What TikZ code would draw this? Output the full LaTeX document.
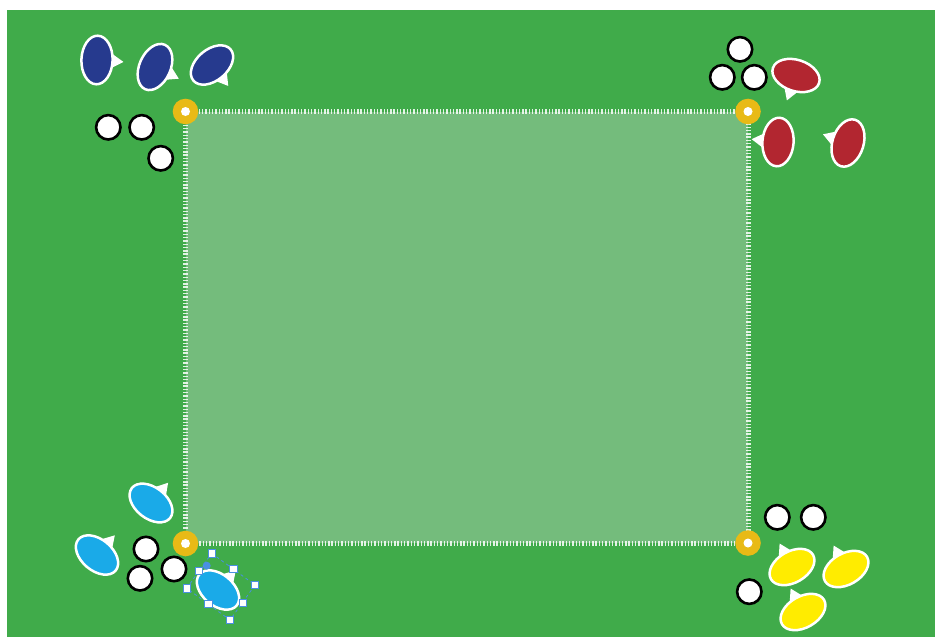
\documentclass[tikz,border=0pt]{standalone}
\definecolor{bgc}{RGB}{64,171,74}
\definecolor{fieldc}{RGB}{116,188,124}
\definecolor{conec}{RGB}{232,186,22}
\definecolor{dblue}{RGB}{38,58,142}
\definecolor{redc}{RGB}{178,38,48}
\definecolor{lblue}{RGB}{26,170,232}
\definecolor{yelc}{RGB}{255,236,0}
\definecolor{selc}{RGB}{74,144,226}
\tikzset{
  ballst/.style={fill=white,draw=black,line width=2.6},
  bodyst/.style={draw=white,line width=2.5},
  handlest/.style={fill=white,draw=selc,line width=0.8},
}
\newcommand\myplayer[4]{%
  \begin{scope}[shift={(#1,-#2)},rotate=#3]
    \fill[white] (10,-10) -- (26.5,-1) -- (10,10) -- cycle;
    \filldraw[bodyst,fill=#4] (0,0) ellipse [x radius=15.6,y radius=24.3];
  \end{scope}}
\newcommand\myball[2]{\filldraw[ballst] (#1,-#2) circle (12.2);}
\newcommand\mycone[2]{\fill[conec] (#1,-#2) circle (12.8);\fill[white] (#1,-#2) circle (4.5);}
\newcommand\myhandle[2]{\filldraw[handlest] (#1-3.6,-#2-3.6) rectangle (#1+3.6,-#2+3.6);}
\begin{document}
\begin{tikzpicture}[x=1pt,y=1pt]
\useasboundingbox (0,0) rectangle (935,-637);
\fill[bgc] (7,-10) rectangle (935,-637);
% field
\fill[fieldc] (185.5,-111.5) rectangle (748,-543);
\draw[white,opacity=0.85,line width=5,dash pattern=on 1.4pt off 1.9pt] (185.5,-111.5) rectangle (748,-543);
% cones
\mycone{185.5}{111.5}
\mycone{748}{111.5}
\mycone{185.5}{543.5}
\mycone{748}{543}
% balls
\myball{108.3}{127.3}\myball{141.7}{127.3}\myball{160.7}{158.3}
\myball{740}{49.3}\myball{722.3}{77.3}\myball{754.3}{77.3}
\myball{146}{549}\myball{140}{578.3}\myball{174}{569}
\myball{777.3}{517.3}\myball{813.3}{517.3}\myball{749.3}{591.7}
% players
\myplayer{97}{60}{-2}{dblue}
\myplayer{155}{67}{-24}{dblue}
\myplayer{212}{65}{-50}{dblue}
\myplayer{796}{75.5}{-108}{redc}
\myplayer{778}{142}{176}{redc}
\myplayer{848}{143}{163}{redc}
\myplayer{151}{503}{52}{lblue}
\myplayer{97}{555}{50}{lblue}
\myplayer{218}{590}{50}{lblue}
\myplayer{792}{567}{120}{yelc}
\myplayer{846}{569}{120}{yelc}
\myplayer{803}{612}{120}{yelc}
% selection box
\draw[selc,dashed,line width=0.8] (211.7,-553.3) -- (255,-585) -- (230,-620) -- (186.7,-588.3) -- cycle;
\myhandle{211.7}{553.3}\myhandle{233.3}{569.2}\myhandle{255}{585}\myhandle{242.5}{602.5}
\myhandle{230}{620}\myhandle{208.3}{604.2}\myhandle{186.7}{588.3}\myhandle{199.2}{570.8}
\fill[selc] (206.7,-565.7) circle (4);
\end{tikzpicture}
\end{document}
